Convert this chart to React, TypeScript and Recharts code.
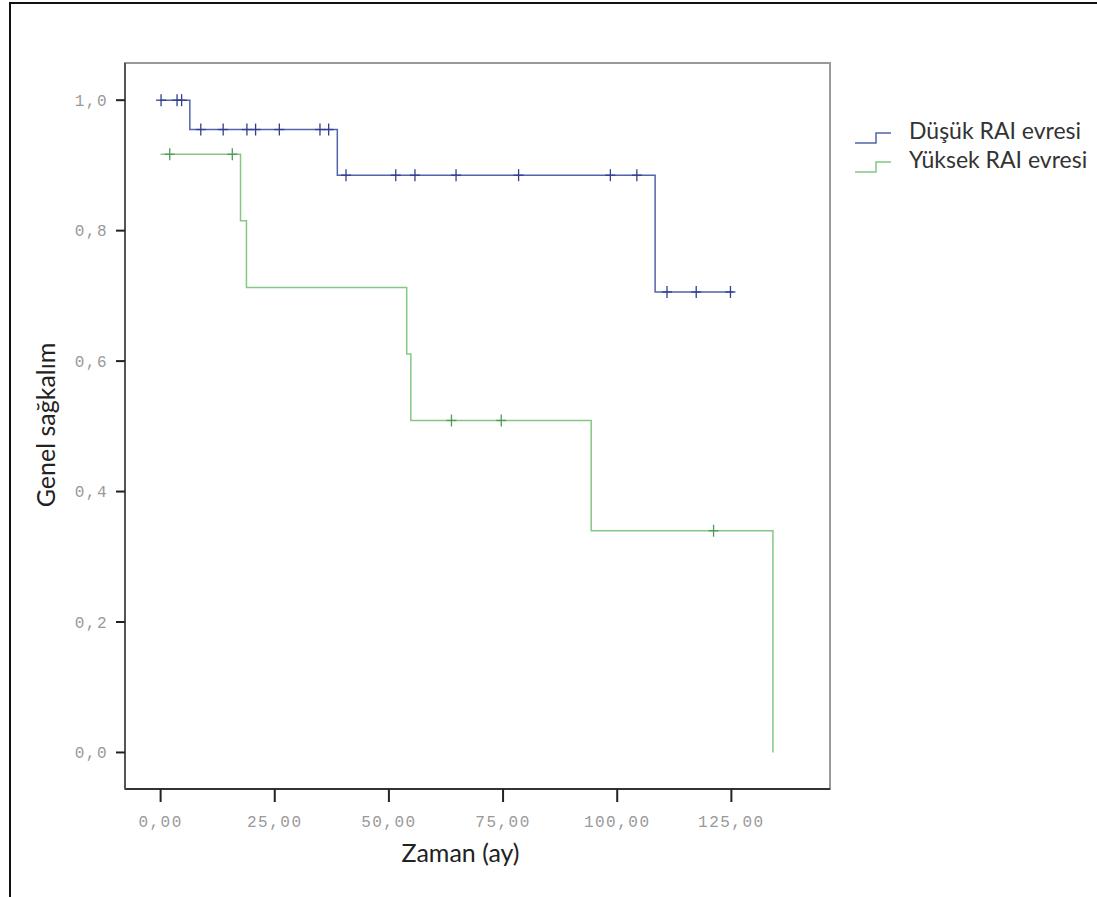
import {
  ComposedChart,
  Line,
  Scatter,
  XAxis,
  YAxis,
  ReferenceArea,
  Legend,
  Label,
} from "recharts";

// Kaplan-Meier steps (time in months, survival)
const lowTimes = [0, 6.4, 38.7, 108.3, 125.4];
const lowSurv = [1.0, 0.955, 0.885, 0.706, 0.706];
const lowCensored = [0.1, 3.6, 4.6, 8.8, 13.7, 18.9, 20.8, 26.0, 34.9, 36.8, 40.6, 51.5, 55.7, 64.7, 78.4, 98.5, 104.3, 110.9, 117.3, 124.8];

const highTimes = [0, 17.5, 18.8, 53.9, 54.8, 94.3, 134.1];
const highSurv = [0.917, 0.815, 0.713, 0.611, 0.509, 0.34, 0];
const highCensored = [2.0, 15.7, 63.7, 74.6, 121.1];

const X_TICKS = [0, 25, 50, 75, 100, 125];
const Y_TICKS = [0, 0.2, 0.4, 0.6, 0.8, 1.0];
const X_DOMAIN: [number, number] = [-7.8, 146.6];
const Y_DOMAIN: [number, number] = [-0.056, 1.057];

const LOW_COLOR = "#5363ad";
const LOW_MARK = "#2f3e8e";
const HIGH_COLOR = "#84c887";
const HIGH_MARK = "#4b9a56";

function steps(times: number[], surv: number[]) {
  return times.map((t, i) => ({ t, s: surv[i] }));
}

function survAt(times: number[], surv: number[], t: number) {
  let s = surv[0];
  times.forEach((tt, i) => {
    if (tt <= t) s = surv[i];
  });
  return s;
}

function censorPoints(times: number[], surv: number[], cens: number[]) {
  return cens.map((t) => ({ t, s: survAt(times, surv, t) }));
}

const lowData = steps(lowTimes, lowSurv);
const highData = steps(highTimes, highSurv);
const lowMarks = censorPoints(lowTimes, lowSurv, lowCensored);
const highMarks = censorPoints(highTimes, highSurv, highCensored);

const makeCross = (color: string) => (props: any) => {
  const { cx, cy } = props;
  return (
    <g>
      <line x1={cx - 5} x2={cx + 5} y1={cy} y2={cy} stroke={color} strokeWidth={1.3} />
      <line x1={cx} x2={cx} y1={cy - 6} y2={cy + 6} stroke={color} strokeWidth={1.3} />
    </g>
  );
};

const tickStyle = {
  fontFamily: "'Liberation Mono', monospace",
  fontSize: 16,
  letterSpacing: 1.5,
  fill: "#999",
};

const titleStyle = { fontFamily: "Lato, sans-serif", fontSize: 25, fill: "#222" };

const comma = (v: number, d: number) => v.toFixed(d).replace(".", ",");

function StepIcon({ color }: { color: string }) {
  return (
    <svg width={40} height={14} style={{ marginRight: 14, flexShrink: 0 }}>
      <polyline points="0,12 21,12 21,2 36,2" fill="none" stroke={color} strokeWidth={1.5} />
    </svg>
  );
}

function LegendBox(props: any) {
  const items = (props.payload || []).filter((p: any) => p.type !== "none");
  return (
    <div style={{ fontFamily: "Lato, sans-serif", fontSize: 23, color: "#333" }}>
      {items.map((p: any) => (
        <div key={p.value} style={{ display: "flex", alignItems: "flex-end", height: 29 }}>
          <StepIcon color={p.color} />
          <span style={{ lineHeight: "29px", whiteSpace: "nowrap" }}>{p.value}</span>
        </div>
      ))}
    </div>
  );
}

export default function App() {
  return (
    <div style={{ position: "absolute", left: 0, top: 0, width: 1097, height: 897, background: "#fff" }}>
      <ComposedChart
        width={1097}
        height={897}
        margin={{ top: 63, right: 267, bottom: 68, left: 65 }}
      >
        <XAxis
          dataKey="t"
          type="number"
          domain={X_DOMAIN}
          ticks={X_TICKS}
          allowDataOverflow
          height={40}
          tickSize={13}
          tickMargin={14}
          tickFormatter={(v) => comma(v, 2)}
          tick={tickStyle}
          axisLine={{ stroke: "#333", strokeWidth: 2 }}
          tickLine={{ stroke: "#222", strokeWidth: 2 }}
        >
          <Label value="Zaman (ay)" position="bottom" offset={15} dx={-17} style={titleStyle} />
        </XAxis>
        <YAxis
          dataKey="s"
          type="number"
          domain={Y_DOMAIN}
          ticks={Y_TICKS}
          allowDataOverflow
          width={60}
          tickSize={9}
          tickMargin={8}
          tickFormatter={(v) => comma(v, 1)}
          tick={tickStyle}
          axisLine={{ stroke: "#555", strokeWidth: 2 }}
          tickLine={{ stroke: "#222", strokeWidth: 2 }}
        >
          <Label
            content={() => (
              <text
                x={45}
                y={425}
                transform="rotate(-90 45 425)"
                textAnchor="middle"
                dominantBaseline="central"
                style={titleStyle}
              >
                Genel sağkalım
              </text>
            )}
          />
        </YAxis>
        <ReferenceArea
          x1={X_DOMAIN[0]}
          x2={X_DOMAIN[1]}
          y1={Y_DOMAIN[0]}
          y2={Y_DOMAIN[1]}
          fill="none"
          stroke="#999"
          strokeWidth={2}
          ifOverflow="visible"
        />
        <Line
          data={lowData}
          dataKey="s"
          name="Düşük RAI evresi"
          type="stepAfter"
          stroke={LOW_COLOR}
          strokeWidth={1.5}
          dot={false}
          activeDot={false}
          isAnimationActive={false}
        />
        <Line
          data={highData}
          dataKey="s"
          name="Yüksek RAI evresi"
          type="stepAfter"
          stroke={HIGH_COLOR}
          strokeWidth={1.5}
          dot={false}
          activeDot={false}
          isAnimationActive={false}
        />
        <Scatter
          data={lowMarks}
          dataKey="s"
          legendType="none"
          shape={makeCross(LOW_MARK)}
          isAnimationActive={false}
        />
        <Scatter
          data={highMarks}
          dataKey="s"
          legendType="none"
          shape={makeCross(HIGH_MARK)}
          isAnimationActive={false}
        />
        <Legend
          layout="vertical"
          align="center"
          verticalAlign="middle"
          content={LegendBox}
          wrapperStyle={{ left: 855, top: 116, width: 240, height: 60 }}
        />
      </ComposedChart>
      <div
        style={{
          position: "absolute",
          left: 9,
          top: 2,
          right: 0,
          bottom: 0,
          borderLeft: "2px solid #111",
          borderTop: "2px solid #111",
          pointerEvents: "none",
        }}
      />
    </div>
  );
}
